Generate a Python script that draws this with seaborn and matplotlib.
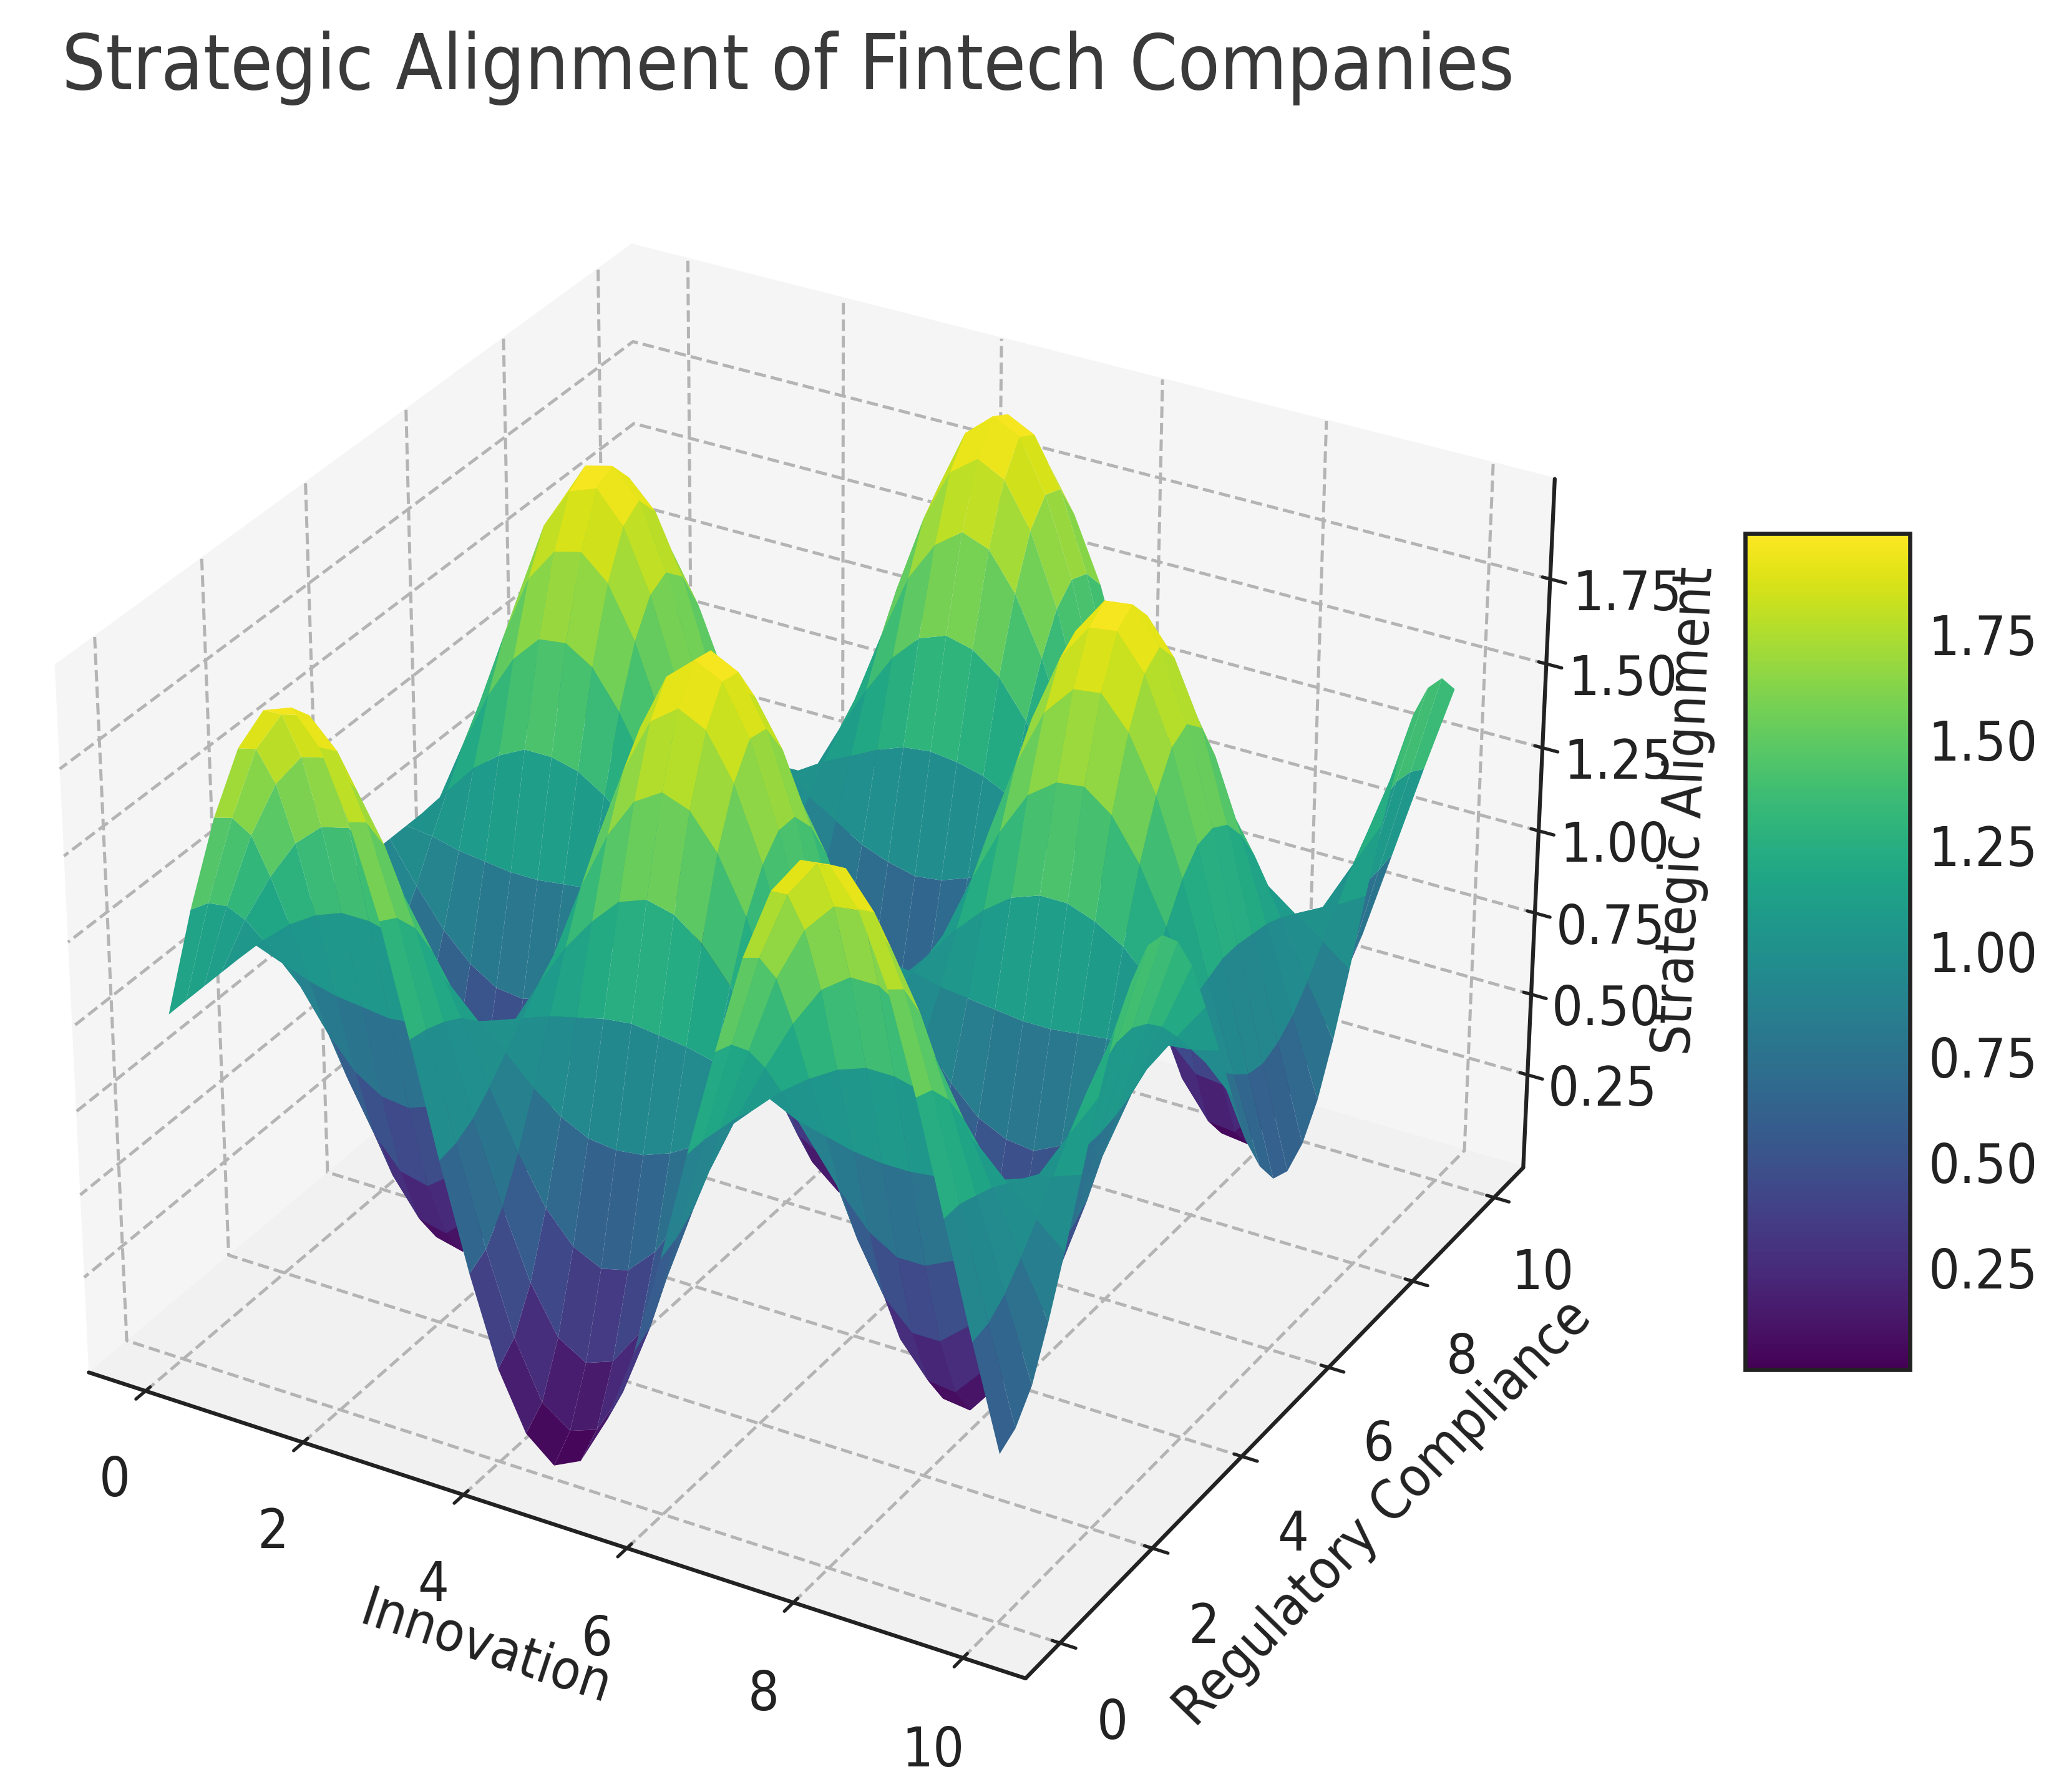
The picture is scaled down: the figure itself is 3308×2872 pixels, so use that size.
import numpy as np
import matplotlib
import matplotlib.pyplot as plt
import seaborn as sns

matplotlib.use("Agg")

# Values, one row per regulatory compliance step
innovation = [0.00, 0.33, 0.67, 1.00, 1.33, 1.67, 2.00, 2.33, 2.67, 3.00, 3.33, 3.67, 4.00, 4.33, 4.67, 5.00,
              5.33, 5.67, 6.00, 6.33, 6.67, 7.00, 7.33, 7.67, 8.00, 8.33, 8.67, 9.00, 9.33, 9.67, 10.00]
regulatory = list(innovation)
alignment = [
    [1.00, 1.33, 1.62, 1.84, 1.97, 2.00, 1.91, 1.72, 1.46, 1.14, 0.81, 0.50, 0.24, 0.07, 0.00, 0.04, 0.19, 0.42, 0.72, 1.05, 1.37, 1.66, 1.87, 1.98, 1.99, 1.89, 1.69, 1.41, 1.09, 0.76, 0.46],
    [1.00, 1.31, 1.58, 1.80, 1.92, 1.94, 1.86, 1.68, 1.43, 1.13, 0.82, 0.53, 0.29, 0.12, 0.06, 0.09, 0.23, 0.45, 0.74, 1.05, 1.35, 1.62, 1.82, 1.93, 1.94, 1.84, 1.65, 1.39, 1.09, 0.77, 0.49],
    [1.00, 1.26, 1.49, 1.66, 1.76, 1.78, 1.71, 1.57, 1.36, 1.11, 0.85, 0.61, 0.41, 0.27, 0.22, 0.25, 0.36, 0.55, 0.78, 1.04, 1.29, 1.52, 1.68, 1.77, 1.78, 1.70, 1.54, 1.32, 1.07, 0.81, 0.57],
    [1.00, 1.18, 1.33, 1.45, 1.52, 1.54, 1.49, 1.39, 1.25, 1.08, 0.90, 0.73, 0.59, 0.50, 0.46, 0.48, 0.56, 0.69, 0.85, 1.03, 1.20, 1.35, 1.47, 1.53, 1.53, 1.48, 1.37, 1.22, 1.05, 0.87, 0.71],
    [1.00, 1.08, 1.15, 1.20, 1.23, 1.23, 1.21, 1.17, 1.11, 1.03, 0.96, 0.88, 0.82, 0.78, 0.77, 0.78, 0.81, 0.86, 0.93, 1.01, 1.09, 1.15, 1.20, 1.23, 1.23, 1.21, 1.16, 1.10, 1.02, 0.94, 0.87],
    [1.00, 0.97, 0.94, 0.92, 0.91, 0.90, 0.91, 0.93, 0.96, 0.99, 1.02, 1.05, 1.07, 1.09, 1.10, 1.09, 1.08, 1.06, 1.03, 1.00, 0.96, 0.94, 0.92, 0.91, 0.91, 0.92, 0.93, 0.96, 0.99, 1.02, 1.05],
    [1.00, 0.86, 0.74, 0.65, 0.60, 0.59, 0.62, 0.70, 0.81, 0.94, 1.08, 1.21, 1.31, 1.39, 1.42, 1.40, 1.34, 1.24, 1.12, 0.98, 0.84, 0.73, 0.64, 0.59, 0.59, 0.63, 0.71, 0.83, 0.96, 1.10, 1.23],
    [1.00, 0.77, 0.57, 0.42, 0.33, 0.31, 0.37, 0.50, 0.68, 0.90, 1.13, 1.35, 1.52, 1.64, 1.69, 1.66, 1.56, 1.40, 1.19, 0.97, 0.74, 0.55, 0.40, 0.32, 0.32, 0.39, 0.53, 0.72, 0.94, 1.17, 1.38],
    [1.00, 0.71, 0.45, 0.25, 0.14, 0.12, 0.19, 0.36, 0.59, 0.87, 1.17, 1.45, 1.67, 1.83, 1.89, 1.85, 1.72, 1.51, 1.25, 0.96, 0.67, 0.42, 0.23, 0.13, 0.12, 0.21, 0.39, 0.63, 0.92, 1.21, 1.48],
    [1.00, 0.68, 0.39, 0.17, 0.04, 0.02, 0.10, 0.28, 0.55, 0.86, 1.19, 1.50, 1.75, 1.92, 1.99, 1.95, 1.81, 1.57, 1.28, 0.95, 0.63, 0.35, 0.14, 0.03, 0.02, 0.12, 0.32, 0.59, 0.91, 1.24, 1.54],
    [1.00, 0.68, 0.39, 0.17, 0.05, 0.02, 0.11, 0.29, 0.55, 0.86, 1.19, 1.49, 1.74, 1.91, 1.98, 1.94, 1.80, 1.57, 1.27, 0.95, 0.63, 0.36, 0.15, 0.04, 0.03, 0.13, 0.32, 0.60, 0.91, 1.24, 1.53],
    [1.00, 0.72, 0.47, 0.27, 0.16, 0.14, 0.21, 0.37, 0.60, 0.88, 1.17, 1.43, 1.66, 1.80, 1.86, 1.83, 1.70, 1.50, 1.24, 0.96, 0.68, 0.43, 0.25, 0.15, 0.14, 0.23, 0.40, 0.64, 0.92, 1.21, 1.47],
    [1.00, 0.79, 0.60, 0.45, 0.36, 0.35, 0.41, 0.53, 0.70, 0.91, 1.13, 1.33, 1.50, 1.61, 1.65, 1.63, 1.53, 1.38, 1.18, 0.97, 0.76, 0.57, 0.43, 0.36, 0.35, 0.42, 0.55, 0.73, 0.94, 1.16, 1.36],
    [1.00, 0.88, 0.77, 0.69, 0.64, 0.63, 0.66, 0.73, 0.83, 0.95, 1.07, 1.19, 1.28, 1.34, 1.37, 1.36, 1.30, 1.21, 1.10, 0.98, 0.86, 0.76, 0.68, 0.64, 0.63, 0.67, 0.75, 0.85, 0.97, 1.09, 1.20],
    [1.00, 0.99, 0.97, 0.96, 0.95, 0.95, 0.96, 0.97, 0.98, 0.99, 1.01, 1.02, 1.03, 1.04, 1.05, 1.04, 1.04, 1.03, 1.01, 1.00, 0.98, 0.97, 0.96, 0.95, 0.95, 0.96, 0.97, 0.98, 1.00, 1.01, 1.03],
    [1.00, 1.09, 1.18, 1.24, 1.28, 1.28, 1.26, 1.21, 1.13, 1.04, 0.95, 0.86, 0.79, 0.74, 0.72, 0.73, 0.77, 0.84, 0.92, 1.01, 1.11, 1.19, 1.25, 1.28, 1.28, 1.25, 1.20, 1.12, 1.03, 0.93, 0.85],
    [1.00, 1.19, 1.36, 1.49, 1.57, 1.58, 1.53, 1.42, 1.27, 1.08, 0.89, 0.71, 0.56, 0.46, 0.42, 0.44, 0.53, 0.66, 0.84, 1.03, 1.22, 1.38, 1.51, 1.57, 1.58, 1.52, 1.40, 1.24, 1.05, 0.86, 0.68],
    [1.00, 1.27, 1.50, 1.69, 1.79, 1.81, 1.74, 1.59, 1.37, 1.12, 0.84, 0.59, 0.38, 0.24, 0.19, 0.22, 0.34, 0.53, 0.77, 1.04, 1.31, 1.54, 1.71, 1.80, 1.81, 1.72, 1.56, 1.34, 1.07, 0.81, 0.56],
    [1.00, 1.31, 1.59, 1.81, 1.93, 1.96, 1.87, 1.69, 1.44, 1.14, 0.82, 0.52, 0.27, 0.11, 0.04, 0.08, 0.22, 0.45, 0.73, 1.05, 1.36, 1.63, 1.83, 1.94, 1.95, 1.85, 1.66, 1.40, 1.09, 0.77, 0.48],
    [1.00, 1.33, 1.62, 1.84, 1.97, 1.99, 1.91, 1.72, 1.46, 1.14, 0.81, 0.50, 0.24, 0.07, 0.00, 0.04, 0.19, 0.42, 0.72, 1.05, 1.37, 1.66, 1.87, 1.98, 1.99, 1.89, 1.69, 1.41, 1.09, 0.76, 0.46],
    [1.00, 1.30, 1.57, 1.78, 1.90, 1.92, 1.84, 1.67, 1.42, 1.13, 0.82, 0.54, 0.30, 0.14, 0.07, 0.11, 0.25, 0.46, 0.74, 1.05, 1.35, 1.61, 1.80, 1.91, 1.92, 1.82, 1.64, 1.38, 1.08, 0.78, 0.50],
    [1.00, 1.25, 1.47, 1.63, 1.73, 1.75, 1.69, 1.55, 1.35, 1.11, 0.86, 0.62, 0.43, 0.30, 0.25, 0.28, 0.39, 0.56, 0.79, 1.04, 1.28, 1.50, 1.65, 1.74, 1.75, 1.67, 1.52, 1.31, 1.07, 0.82, 0.59],
    [1.00, 1.16, 1.31, 1.42, 1.48, 1.50, 1.45, 1.36, 1.23, 1.07, 0.90, 0.75, 0.62, 0.54, 0.50, 0.52, 0.60, 0.71, 0.86, 1.02, 1.19, 1.33, 1.43, 1.49, 1.49, 1.44, 1.34, 1.21, 1.05, 0.88, 0.73],
    [1.00, 1.06, 1.11, 1.16, 1.18, 1.19, 1.17, 1.13, 1.09, 1.03, 0.96, 0.91, 0.86, 0.83, 0.81, 0.82, 0.85, 0.89, 0.95, 1.01, 1.07, 1.12, 1.16, 1.18, 1.18, 1.16, 1.13, 1.08, 1.02, 0.96, 0.90],
    [1.00, 0.95, 0.91, 0.88, 0.86, 0.85, 0.87, 0.89, 0.93, 0.98, 1.03, 1.07, 1.11, 1.14, 1.15, 1.14, 1.12, 1.08, 1.04, 0.99, 0.95, 0.90, 0.87, 0.86, 0.86, 0.87, 0.90, 0.94, 0.99, 1.03, 1.08],
    [1.00, 0.85, 0.72, 0.61, 0.55, 0.54, 0.58, 0.67, 0.79, 0.94, 1.09, 1.23, 1.35, 1.43, 1.46, 1.44, 1.38, 1.27, 1.13, 0.98, 0.83, 0.70, 0.60, 0.55, 0.54, 0.59, 0.68, 0.81, 0.96, 1.11, 1.25],
    [1.00, 0.76, 0.55, 0.39, 0.29, 0.28, 0.34, 0.48, 0.67, 0.90, 1.14, 1.36, 1.55, 1.67, 1.73, 1.70, 1.59, 1.42, 1.20, 0.96, 0.73, 0.52, 0.37, 0.29, 0.28, 0.36, 0.50, 0.70, 0.93, 1.17, 1.40],
    [1.00, 0.70, 0.44, 0.23, 0.11, 0.09, 0.17, 0.34, 0.58, 0.87, 1.17, 1.46, 1.69, 1.85, 1.91, 1.87, 1.74, 1.53, 1.25, 0.95, 0.66, 0.40, 0.21, 0.10, 0.09, 0.19, 0.37, 0.62, 0.92, 1.22, 1.50],
    [1.00, 0.67, 0.38, 0.16, 0.03, 0.01, 0.09, 0.28, 0.54, 0.86, 1.19, 1.50, 1.75, 1.93, 2.00, 1.96, 1.81, 1.58, 1.28, 0.95, 0.63, 0.35, 0.14, 0.02, 0.01, 0.12, 0.31, 0.59, 0.91, 1.24, 1.54],
    [1.00, 0.68, 0.40, 0.18, 0.06, 0.03, 0.12, 0.30, 0.56, 0.86, 1.19, 1.49, 1.74, 1.90, 1.97, 1.93, 1.79, 1.56, 1.27, 0.95, 0.64, 0.36, 0.16, 0.05, 0.04, 0.14, 0.33, 0.60, 0.91, 1.23, 1.53],
    [1.00, 0.73, 0.48, 0.29, 0.18, 0.17, 0.24, 0.39, 0.62, 0.88, 1.16, 1.42, 1.64, 1.78, 1.84, 1.81, 1.68, 1.49, 1.23, 0.96, 0.69, 0.45, 0.27, 0.18, 0.17, 0.26, 0.42, 0.65, 0.92, 1.20, 1.46],
]
xy_ticks = [0, 2, 4, 6, 8, 10]
z_ticks = [0.25, 0.50, 0.75, 1.00, 1.25, 1.50, 1.75]

sns.set_theme(style="whitegrid", rc={
    "axes.edgecolor": "#222222",
    "axes.linewidth": 1.5,
    "grid.color": "#b4b4b4",
    "grid.linestyle": "--",
    "grid.linewidth": 1.2,
    "xtick.color": "#222222",
    "ytick.color": "#222222",
    "text.color": "#222222",
    "axes.labelcolor": "#222222",
})
plt.rcParams["font.family"] = ["DejaVu Sans"]
plt.rcParams["font.stretch"] = "condensed"

fig = plt.figure(figsize=(3308 / 300, 2872 / 300), dpi=300)
ax = fig.add_axes([-0.018, -0.0095, 0.808, 0.959], projection="3d")

X, Y = np.meshgrid(innovation, regulatory)
Z = np.array(alignment)
surf = ax.plot_surface(X, Y, Z, cmap=sns.color_palette("viridis", as_cmap=True),
                       vmin=0.01, vmax=1.99, rstride=1, cstride=1, linewidth=0, antialiased=True)

ax.set_xlabel("Innovation", fontsize=21, labelpad=14)
ax.set_ylabel("Regulatory Compliance", fontsize=21, labelpad=14)
ax.set_zlabel("Strategic Alignment", fontsize=21, labelpad=14)
ax.set_xticks(xy_ticks)
ax.set_yticks(xy_ticks)
ax.set_zticks(z_ticks)
ax.tick_params(labelsize=21, pad=10)
ax.xaxis.set_pane_color((0.96, 0.96, 0.96, 1))
ax.yaxis.set_pane_color((0.96, 0.96, 0.96, 1))
ax.zaxis.set_pane_color((0.945, 0.945, 0.945, 1))

cax = fig.add_axes([1326 / 1568, 1 - 1040 / 1361, 125 / 1568, 635 / 1361])
cbar = fig.colorbar(surf, cax=cax, ticks=z_ticks)
cbar.ax.tick_params(labelsize=21, direction="in", length=6, width=1.4, pad=7, color="#222222")
cbar.outline.set_linewidth(1.6)
cbar.outline.set_edgecolor("#222222")

fig.text(47 / 1568, 1 - 68 / 1361, "Strategic Alignment of Fintech Companies", fontsize=29.5, color="#3a3a3a")

fig.savefig("out.png", dpi=300)
